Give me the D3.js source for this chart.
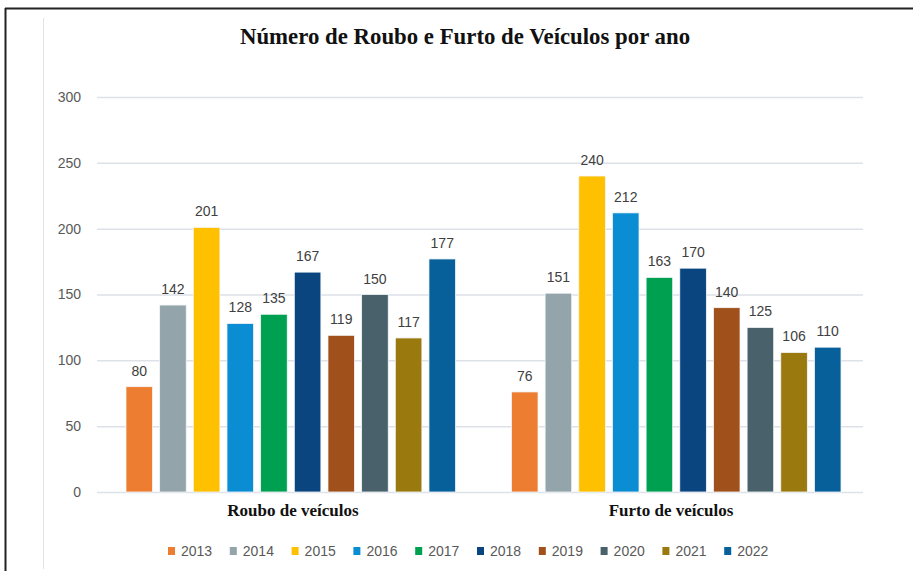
<!DOCTYPE html>
<html>
<head>
<meta charset="utf-8">
<script src="https://cdn.jsdelivr.net/npm/d3@7"></script>
<style>
  body { margin: 0; background: #fff; }
</style>
</head>
<body>
<div id="chart"></div>
<script>
// Roubo e furto de veículos por ano

let categorias = ['Roubo de veículos', 'Furto de veículos'];
let anos = ['2013', '2014', '2015', '2016', '2017', '2018', '2019', '2020', '2021', '2022'];
let roubo = [80, 142, 201, 128, 135, 167, 119, 150, 117, 177];
let furto = [76, 151, 240, 212, 163, 170, 140, 125, 106, 110];
let y_ticks = [0, 50, 100, 150, 200, 250, 300];
let cores = ['#ED7D31', '#93A4AB', '#FFC000', '#0B8DD3', '#00A051', '#0A4580', '#A0501A', '#48616B', '#9A7A0E', '#07609A'];

let series = [roubo, furto];

let width = 913;
let height = 571;

let svg = d3.select('#chart')
    .append('svg')
    .attr('width', width)
    .attr('height', height);

// moldura
svg.append('line')
    .attr('x1', 5).attr('x2', width).attr('y1', 8.5).attr('y2', 8.5)
    .attr('stroke', '#222').attr('stroke-width', 2);
svg.append('line')
    .attr('x1', 5.5).attr('x2', 5.5).attr('y1', 8).attr('y2', height)
    .attr('stroke', '#222').attr('stroke-width', 2);
svg.append('line')
    .attr('x1', 43.5).attr('x2', 43.5).attr('y1', 18).attr('y2', 569)
    .attr('stroke', '#e3e3e3').attr('stroke-width', 1);

// escalas
let x_scale = d3.scaleBand()
    .domain(categorias)
    .range([99, 868])
    .paddingInner(0.145)
    .paddingOuter(0.07);

let x_ano = d3.scaleBand()
    .domain(anos)
    .range([0, x_scale.bandwidth()])
    .paddingInner(0.21);

let y_scale = d3.scaleLinear()
    .domain([0, 300])
    .range([492, 97]);

let color = d3.scaleOrdinal()
    .domain(anos)
    .range(cores);

// eixo y + grade
let y_axis = d3.axisLeft(y_scale)
    .tickValues(y_ticks)
    .tickSize(-(863 - 97))
    .tickPadding(16);

let gy = svg.append('g')
    .attr('transform', 'translate(97,0)')
    .call(y_axis);
gy.select('.domain').remove();
gy.selectAll('.tick line')
    .attr('stroke', '#dde2e8')
    .attr('stroke-width', 1.5);
gy.selectAll('.tick text')
    .attr('fill', '#595959')
    .style('font-family', 'Liberation Sans, Arial, sans-serif')
    .style('font-size', '14px');

// barras
let grupos = svg.selectAll('.grupo')
    .data(categorias)
    .enter()
    .append('g')
    .attr('class', 'grupo')
    .attr('transform', d => 'translate(' + x_scale(d) + ',0)');

grupos.selectAll('rect')
    .data((d, i) => anos.map((a, j) => ({ano: a, valor: series[i][j]})))
    .enter()
    .append('rect')
    .attr('x', d => x_ano(d.ano))
    .attr('y', d => y_scale(d.valor))
    .attr('width', x_ano.bandwidth())
    .attr('height', d => y_scale(0) - y_scale(d.valor))
    .attr('fill', d => color(d.ano))
    .attr('stroke', '#f4f7fa')
    .attr('stroke-width', 0.8);

// rótulos
grupos.selectAll('.rotulo')
    .data((d, i) => anos.map((a, j) => ({ano: a, valor: series[i][j]})))
    .enter()
    .append('text')
    .attr('class', 'rotulo')
    .text(d => d.valor)
    .attr('x', d => x_ano(d.ano) + x_ano.bandwidth() / 2)
    .attr('y', d => y_scale(d.valor) - 11)
    .attr('text-anchor', 'middle')
    .attr('fill', '#404040')
    .style('font-family', 'Liberation Sans, Arial, sans-serif')
    .style('font-size', '14px');

// categorias
svg.selectAll('.categoria')
    .data(categorias)
    .enter()
    .append('text')
    .attr('class', 'categoria')
    .text(d => d)
    .attr('x', (d, i) => [293, 671][i])
    .attr('y', 516)
    .attr('text-anchor', 'middle')
    .attr('fill', '#111')
    .style('font-family', 'Liberation Serif, serif')
    .style('font-weight', 'bold')
    .style('font-size', '17px');

// título
svg.append('text')
    .text('Número de Roubo e Furto de Veículos por ano')
    .attr('x', 465)
    .attr('y', 44)
    .attr('text-anchor', 'middle')
    .attr('fill', '#111')
    .style('font-family', 'Liberation Serif, serif')
    .style('font-weight', 'bold')
    .style('font-size', '22.8px');

// legenda
let legenda = svg.selectAll('.legenda')
    .data(anos)
    .enter()
    .append('g')
    .attr('class', 'legenda')
    .attr('transform', (d, i) => 'translate(' + (168 + i * 61.8) + ',547)');

legenda.append('rect')
    .attr('width', 7)
    .attr('height', 8)
    .attr('fill', d => color(d));

legenda.append('text')
    .text(d => d)
    .attr('x', 13)
    .attr('y', 9)
    .attr('fill', '#595959')
    .style('font-family', 'Liberation Sans, Arial, sans-serif')
    .style('font-size', '14px');
</script>
</body>
</html>
